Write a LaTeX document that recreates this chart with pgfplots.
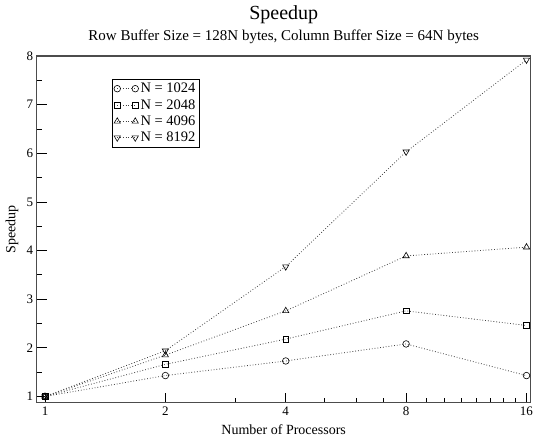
\documentclass[border=0pt]{standalone}
\usepackage{fontspec}
\setmainfont{Liberation Serif}
\usepackage{pgfplots}
\pgfplotsset{compat=1.18}
\begin{document}
\begin{tikzpicture}
\begin{axis}[
  scale only axis,
  width=494pt, height=346.7pt,
  xmin=-0.069, xmax=4.035,
  ymin=0.872, ymax=8,
  xtick={0,1,2,3,4},
  xticklabels={1,2,4,8,16},
  minor xtick={1.585,2.3219,2.585,2.8074,3.1699,3.3219,3.4594,3.585,3.7004,3.8074,3.9069},
  ytick={1,2,3,4,5,6,7,8},
  minor y tick num=1,
  tick pos=left,
  tick align=inside,
  major tick length=10pt,
  minor tick length=5pt,
  every tick/.style={black, line width=0.8pt},
  axis line style={draw=black!70, line width=1.4pt},
  /pgf/number format/assume math mode=true,
  ticklabel style={font=\fontsize{13}{13}\selectfont},
  xticklabel style={yshift=-1pt},
  clip=false,
  legend style={at={(rel axis cs:0.1515,0.9345)}, anchor=north west,
    draw=black, line width=0.8pt, font=\fontsize{14.5}{15}\selectfont,
    inner sep=2pt, row sep=1.2pt, cells={anchor=west}},
  legend image code/.code={\draw[mark repeat=1,#1] plot coordinates {(0pt,0pt) (18pt,0pt)};},
  every axis plot/.append style={dotted, black!75, line width=0.8pt},
]
% x = log2(number of processors): 0->1, 1->2, 2->4, 3->8, 4->16
\addplot[mark=o, mark size=3.3pt, mark options={solid, black, line width=0.6pt, fill=white}] coordinates {(0,1) (1,1.43) (2,1.73) (3,2.08) (4,1.43)};
\addlegendentry{N = 1024}
\addplot[mark=square, mark size=2.9pt, mark options={solid, black, line width=0.6pt, fill=white}] coordinates {(0,1) (1,1.66) (2,2.18) (3,2.76) (4,2.46)};
\addlegendentry{N = 2048}
\addplot[mark=triangle, mark size=3.6pt, mark options={solid, black, line width=0.6pt, fill=white}] coordinates {(0,1) (1,1.85) (2,2.76) (3,3.89) (4,4.07)};
\addlegendentry{N = 4096}
\addplot[mark=triangle, mark size=3.6pt, mark options={solid, black, line width=0.6pt, fill=white, rotate=180}] coordinates {(0,1) (1,1.94) (2,3.67) (3,6.03) (4,7.92)};
\addlegendentry{N = 8192}
\end{axis}
\node[font=\fontsize{20}{20}\selectfont] at (247pt,387.7pt) {Speedup};
\node[font=\fontsize{15}{15}\selectfont] at (247pt,365.7pt) {Row Buffer Size = 128N bytes, Column Buffer Size = 64N bytes};
\node[font=\fontsize{14}{14}\selectfont, rotate=90] at (-24.7pt,173.3pt) {Speedup};
\node[font=\fontsize{14}{14}\selectfont] at (247pt,-27.3pt) {Number of Processors};
\pgfresetboundingbox
\path[use as bounding box] (-36.7pt,-37.3pt) rectangle (496.3pt,402.7pt);
\end{tikzpicture}
\end{document}
